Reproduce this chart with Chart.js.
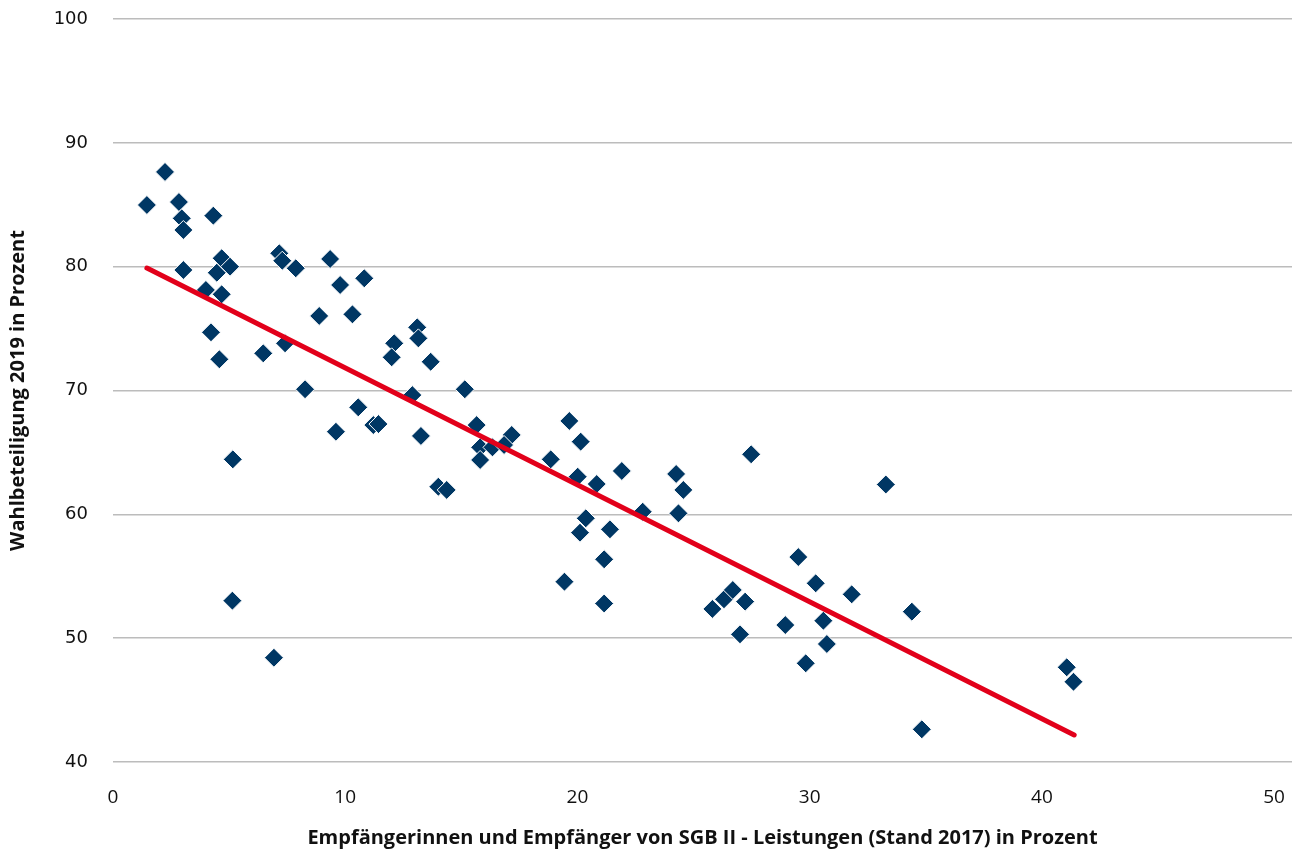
<!DOCTYPE html>
<html lang="de">
<head>
<meta charset="utf-8">
<title>Wahlbeteiligung und SGB II</title>
<script src="https://cdn.jsdelivr.net/npm/chart.js@4.4.1/dist/chart.umd.min.js"></script>
<style>
  html, body { margin: 0; padding: 0; background: #fff; }
  #wrap { width: 1298px; height: 852px; position: relative; }
</style>
</head>
<body>
<div id="wrap"><canvas id="scatterChart"></canvas></div>
<script>
// SGB II Quote 2017 (x) und Wahlbeteiligung 2019 (y), je Stadtteil
const sgbQuote = [
    1.46, 2.24, 2.84, 2.96, 3.03, 3.03, 4.32, 4.68, 4.47, 5.04,
    4.00, 4.68, 4.22, 4.58, 6.47, 7.41, 7.16, 7.29, 7.87, 5.16,
    5.14, 6.93, 8.27, 9.35, 9.78, 10.82, 8.88, 10.31, 10.56, 9.60,
    11.21, 11.43, 12.11, 12.00, 13.10, 13.15, 13.68, 12.89, 13.26, 15.15,
    15.66, 15.81, 16.34, 17.17, 15.81, 14.01, 14.37, 16.84, 18.85, 19.65,
    20.14, 20.01, 20.83, 21.91, 22.81, 20.36, 20.11, 21.40, 21.15, 19.44,
    21.15, 24.25, 24.56, 24.35, 27.48, 25.81, 26.31, 26.69, 27.22, 27.00,
    29.51, 30.26, 31.81, 33.28, 34.40, 28.95, 30.59, 30.74, 29.83, 34.83,
    41.07, 41.36
];
const wahlbeteiligung = [
    84.98, 87.65, 85.22, 83.90, 82.96, 79.73, 84.12, 80.68, 79.51, 80.00,
    78.12, 77.77, 74.70, 72.52, 73.00, 73.81, 81.08, 80.48, 79.87, 64.44,
    53.03, 48.42, 70.10, 80.62, 78.52, 79.06, 76.02, 76.15, 68.64, 66.67,
    67.21, 67.29, 73.81, 72.68, 75.10, 74.21, 72.32, 69.63, 66.33, 70.10,
    67.21, 65.41, 65.41, 66.41, 64.39, 62.23, 61.97, 65.60, 64.44, 67.54,
    65.87, 63.04, 62.45, 63.50, 60.21, 59.68, 58.52, 58.79, 56.37, 54.56,
    52.80, 63.26, 61.97, 60.08, 64.85, 52.36, 53.14, 53.89, 52.95, 50.31,
    56.55, 54.43, 53.54, 62.41, 52.14, 51.06, 51.41, 49.53, 47.97, 42.64,
    47.65, 46.48
];

// Trendlinie (Endpunkte)
const trendX = [1.46, 41.39];
const trendY = [79.89, 42.18];

const xTicks = [0, 10, 20, 30, 40, 50];
const yTicks = [40, 50, 60, 70, 80, 90, 100];

const xTitle = 'Empfängerinnen und Empfänger von SGB II - Leistungen (Stand 2017) in Prozent';
const yTitle = 'Wahlbeteiligung 2019 in Prozent';

const punkte = sgbQuote.map((x, i) => ({ x: x, y: wahlbeteiligung[i] }));
const trend = trendX.map((x, i) => ({ x: x, y: trendY[i] }));

const xTickFont = { family: '"Open Sans", "Noto Sans", sans-serif', size: 19 };
const yTickFont = { family: '"DejaVu Sans", "Open Sans", sans-serif', size: 18 };
const titleFont = { family: '"Open Sans", "Noto Sans", sans-serif', size: 20, weight: 'bold' };

const ctx = document.getElementById('scatterChart').getContext('2d');

new Chart(ctx, {
    type: 'scatter',
    data: {
        datasets: [
            {
                type: 'line',
                data: trend,
                borderColor: '#E2001A',
                borderWidth: 5,
                borderCapStyle: 'round',
                pointRadius: 0,
                fill: false
            },
            {
                data: punkte,
                pointStyle: 'rectRot',
                pointRadius: 9.5,
                pointHoverRadius: 9.5,
                backgroundColor: '#003764',
                borderColor: '#ffffff',
                borderWidth: 1
            }
        ]
    },
    options: {
        responsive: true,
        maintainAspectRatio: false,
        animation: false,
        layout: { autoPadding: false, padding: { top: 19, right: 6, bottom: 0, left: 0 } },
        plugins: {
            legend: { display: false },
            tooltip: { enabled: false }
        },
        scales: {
            x: {
                type: 'linear',
                min: 0,
                max: 50.77,
                afterBuildTicks: (scale) => {
                    scale.ticks = xTicks.map(v => ({ value: v }));
                },
                afterFit: (scale) => {
                    scale.height = 90;
                    scale.paddingLeft = 0;
                    scale.paddingRight = 0;
                },
                grid: { display: false, drawTicks: false },
                border: { display: false },
                ticks: { color: '#111', font: xTickFont, padding: 24, maxRotation: 0 },
                title: {
                    display: true,
                    text: xTitle,
                    color: '#111',
                    font: titleFont,
                    padding: { top: 2, bottom: 2 }
                }
            },
            y: {
                type: 'linear',
                min: 40,
                max: 100,
                afterBuildTicks: (scale) => {
                    scale.ticks = yTicks.map(v => ({ value: v }));
                },
                afterFit: (scale) => {
                    scale.width = 113;
                    scale.paddingTop = 0;
                    scale.paddingBottom = 0;
                },
                grid: { color: '#bcbcbc', lineWidth: 1.5, drawTicks: false },
                border: { display: false },
                ticks: { color: '#111', font: yTickFont, padding: 25 },
                title: {
                    display: true,
                    text: yTitle,
                    color: '#111',
                    font: titleFont,
                    padding: { top: 6, bottom: 0 }
                }
            }
        }
    }
});
</script>
</body>
</html>
